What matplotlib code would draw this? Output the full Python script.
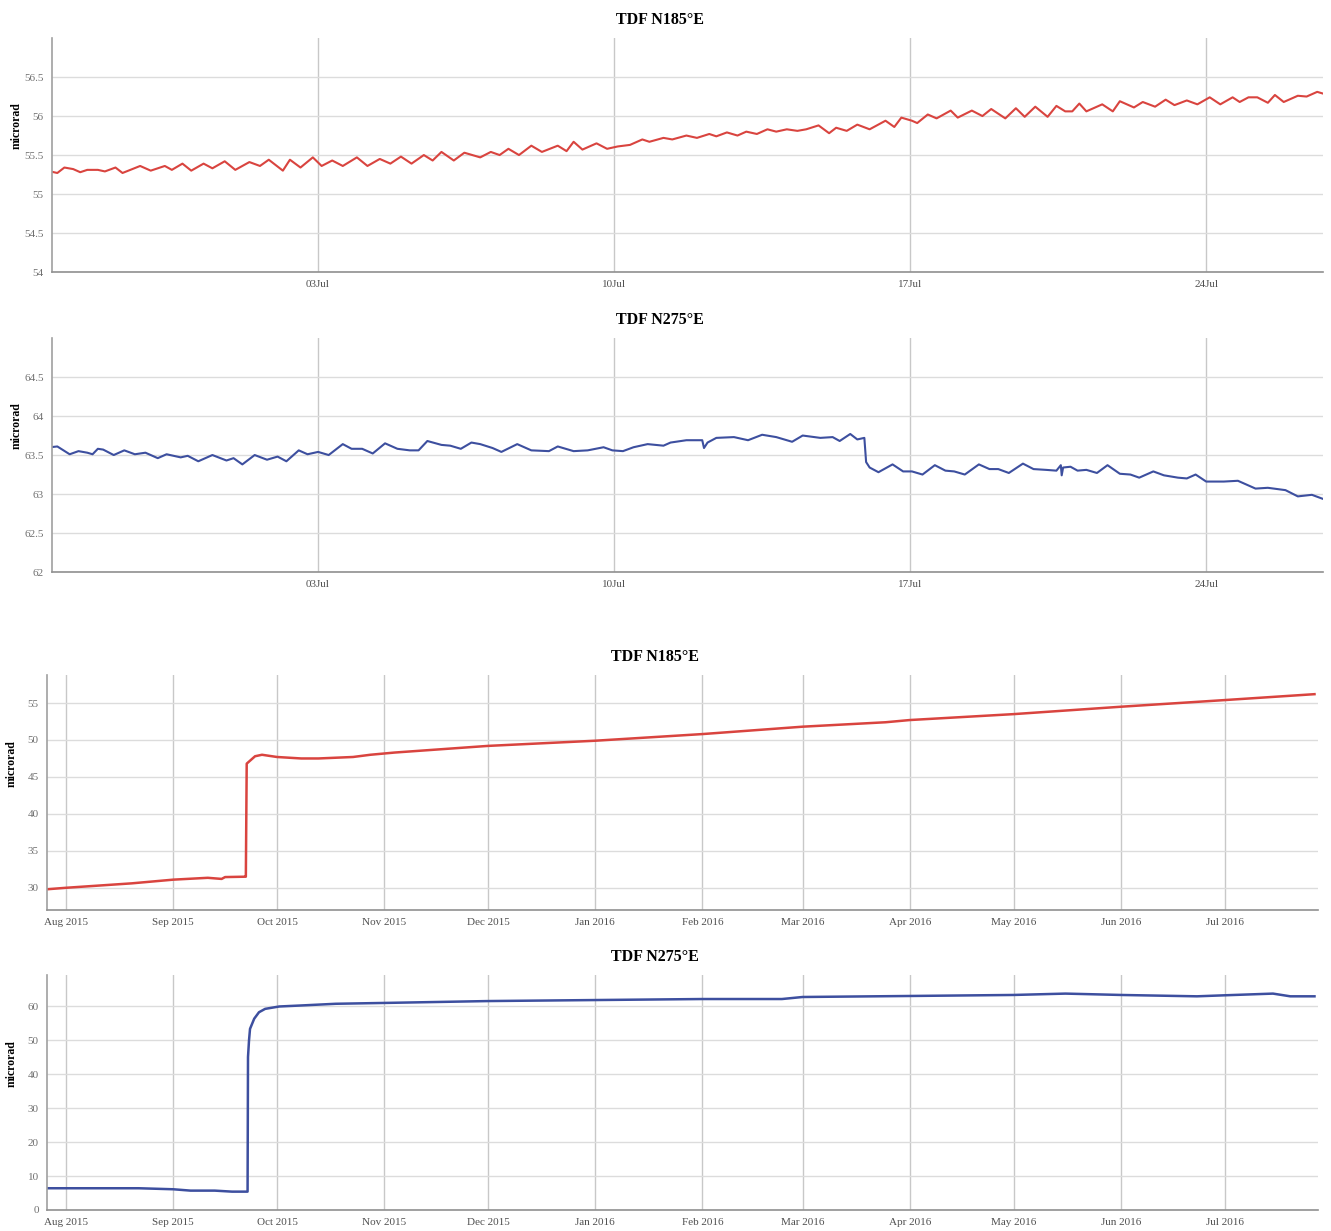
#!/usr/bin/env python3
# -*- coding: utf-8 -*-
"""
TDF tiltmeter plots: one month detail (Jul 2016) and one year overview
"""

import pandas as pd
import numpy as np
import matplotlib
matplotlib.use('Agg')
import matplotlib.pyplot as plt
import matplotlib.dates as mdates
from matplotlib.ticker import FixedLocator, FuncFormatter

plt.rcParams['font.family'] = ['Liberation Serif', 'DejaVu Serif']

RED = '#d9443f'
BLUE = '#3d4f9f'

# ---- month panels: hours after 2016-06-27 00:00 ----
MONTH_START = '2016-06-27 00:00'

n185_hours = [-8, -4, 0, 5, 9, 13, 19, 23, 29, 33, 43, 49, 57, 61, 67, 72, 79, 84,
              91, 97, 105, 111, 116, 124, 128, 134, 141, 146, 152, 158, 166, 172,
              179, 185, 191, 197, 204, 209, 214, 221, 227, 236, 242, 247, 252, 258,
              265, 271, 280, 285, 289, 294, 302, 308, 314, 321, 328, 332, 340, 345,
              353, 359, 366, 370, 376, 382, 387, 393, 399, 404, 410, 416, 421, 428,
              434, 438, 444, 450, 457, 466, 471, 475, 481, 484, 490, 495, 503, 507,
              515, 521, 526, 534, 540, 545, 551, 558, 563, 568, 572, 576, 580, 589,
              595, 599, 607, 612, 619, 625, 630, 637, 643, 650, 656, 663, 667, 672,
              677, 683, 687, 692, 700, 705, 711, 714]
n185_month = [55.29, 55.27, 55.34, 55.32, 55.28, 55.31, 55.31, 55.29, 55.34, 55.27,
              55.36, 55.30, 55.36, 55.31, 55.39, 55.30, 55.39, 55.33, 55.42, 55.31,
              55.41, 55.36, 55.44, 55.30, 55.44, 55.34, 55.47, 55.36, 55.43, 55.36,
              55.47, 55.36, 55.45, 55.39, 55.48, 55.39, 55.50, 55.43, 55.54, 55.43,
              55.53, 55.47, 55.54, 55.50, 55.58, 55.50, 55.62, 55.54, 55.62, 55.55,
              55.67, 55.57, 55.65, 55.58, 55.61, 55.63, 55.70, 55.67, 55.72, 55.70,
              55.75, 55.72, 55.77, 55.74, 55.79, 55.75, 55.80, 55.77, 55.83, 55.80,
              55.83, 55.81, 55.83, 55.88, 55.78, 55.85, 55.81, 55.89, 55.83, 55.94,
              55.86, 55.98, 55.94, 55.91, 56.02, 55.97, 56.07, 55.98, 56.07, 56.00,
              56.09, 55.97, 56.10, 55.99, 56.12, 55.99, 56.13, 56.06, 56.06, 56.16,
              56.06, 56.15, 56.06, 56.19, 56.11, 56.18, 56.12, 56.21, 56.14, 56.20,
              56.15, 56.24, 56.15, 56.24, 56.18, 56.24, 56.24, 56.17, 56.27, 56.18,
              56.26, 56.25, 56.31, 56.29]

n275_hours = [-8, -4, 3, 8, 13, 16, 19, 22, 28, 34, 40, 46, 53, 58, 66, 70, 76, 84,
              92, 96, 101, 108, 115, 121, 126, 133, 138, 144, 150, 158, 163, 169,
              175, 182, 189, 196, 201, 206, 214, 219, 225, 231, 236, 243, 248, 257,
              265, 275, 280, 289, 297, 306, 311, 317, 323, 331, 340, 344, 353, 362,
              363, 365, 370, 380, 388, 396, 404, 413, 419, 429, 436, 440, 446, 450,
              454, 455, 457, 462, 470, 476, 481, 487, 494, 500, 505, 511, 519, 525,
              530, 536, 544, 550, 557, 563, 565.5, 566, 566.8, 571, 575, 580, 586,
              592, 599, 605, 610, 618, 624, 632, 637, 642, 648, 658, 666, 676, 683,
              693, 700, 708, 714]
n275_month = [63.60, 63.61, 63.51, 63.55, 63.53, 63.51, 63.58, 63.57, 63.50, 63.56,
              63.51, 63.53, 63.46, 63.51, 63.47, 63.49, 63.42, 63.50, 63.43, 63.46,
              63.38, 63.50, 63.44, 63.48, 63.42, 63.56, 63.51, 63.54, 63.50, 63.64,
              63.58, 63.58, 63.52, 63.65, 63.58, 63.56, 63.56, 63.68, 63.63, 63.62,
              63.58, 63.66, 63.64, 63.59, 63.54, 63.64, 63.56, 63.55, 63.61, 63.55,
              63.56, 63.60, 63.56, 63.55, 63.60, 63.64, 63.62, 63.66, 63.69, 63.69,
              63.59, 63.66, 63.72, 63.73, 63.69, 63.76, 63.73, 63.67, 63.75, 63.72,
              63.73, 63.68, 63.77, 63.70, 63.72, 63.41, 63.34, 63.28, 63.38, 63.29,
              63.29, 63.25, 63.37, 63.30, 63.29, 63.25, 63.38, 63.32, 63.32, 63.27,
              63.39, 63.32, 63.31, 63.30, 63.37, 63.24, 63.34, 63.35, 63.30, 63.31,
              63.27, 63.37, 63.26, 63.25, 63.21, 63.29, 63.24, 63.21, 63.20, 63.25,
              63.16, 63.16, 63.17, 63.07, 63.08, 63.05, 62.97, 62.99, 62.94]

month_ticks = ['2016-07-03', '2016-07-10', '2016-07-17', '2016-07-24']

# ---- year panels ----
n185_year_dates = ['2015-07-26', '2015-08-01', '2015-08-20', '2015-09-01', '2015-09-11',
                   '2015-09-15', '2015-09-16', '2015-09-21 18:00', '2015-09-22 00:00',
                   '2015-09-22 06:00', '2015-09-24 16:00', '2015-09-26 16:00',
                   '2015-10-01', '2015-10-08', '2015-10-13', '2015-10-23', '2015-10-28',
                   '2015-11-04', '2015-12-01', '2016-01-01', '2016-02-01', '2016-03-01',
                   '2016-03-25', '2016-04-01', '2016-05-01', '2016-06-01', '2016-07-01',
                   '2016-07-27']
n185_year = [29.78, 30.0, 30.6, 31.1, 31.35, 31.2, 31.45, 31.5, 31.5, 46.8, 47.8,
             48.0, 47.7, 47.5, 47.5, 47.7, 48.0, 48.3, 49.2, 49.9, 50.8, 51.8, 52.4,
             52.7, 53.5, 54.5, 55.4, 56.2]

n275_year_dates = ['2015-07-26', '2015-08-01', '2015-08-22', '2015-09-01', '2015-09-06',
                   '2015-09-13', '2015-09-18', '2015-09-22 12:00', '2015-09-22 15:00',
                   '2015-09-22 22:00', '2015-09-23 05:00', '2015-09-24 10:00',
                   '2015-09-25 19:00', '2015-09-27 14:00', '2015-10-01 16:00',
                   '2015-10-08', '2015-10-18', '2015-11-04', '2015-12-01', '2016-01-01',
                   '2016-02-01', '2016-02-24', '2016-03-01', '2016-04-01', '2016-05-01',
                   '2016-05-16', '2016-06-01', '2016-06-23', '2016-07-01', '2016-07-15',
                   '2016-07-20', '2016-07-27']
n275_year = [6.4, 6.4, 6.4, 6.1, 5.7, 5.7, 5.4, 5.4, 45.1, 50.0, 53.4, 56.4,
             58.3, 59.3, 60.0, 60.3, 60.8, 61.1, 61.6, 61.9, 62.2, 62.2, 62.8, 63.1,
             63.4, 63.8, 63.4, 63.0, 63.3, 63.8, 63.0, 63.0]

year_ticks = ['2015-08-01', '2015-09-01', '2015-10-01', '2015-11-01', '2015-12-01',
              '2016-01-01', '2016-02-01', '2016-03-01', '2016-04-01', '2016-05-01',
              '2016-06-01', '2016-07-01']


def to_dates(strings):
    return pd.to_datetime(strings, format='ISO8601')


def style_axes(ax, title, yticks, ylim, xticks, xfmt, xlim):
    """common look of the four panels"""
    ax.set_xlim(xlim)
    ax.set_ylim(ylim)
    ax.yaxis.set_major_locator(FixedLocator(yticks))
    ax.yaxis.set_major_formatter(FuncFormatter(lambda v, p: f'{v:g}'))
    ax.xaxis.set_major_locator(FixedLocator(mdates.date2num(to_dates(xticks))))
    ax.xaxis.set_major_formatter(mdates.DateFormatter(xfmt))
    ax.tick_params(axis='both', length=0, labelsize=8, pad=6)
    ax.tick_params(axis='y', labelcolor='#707070')
    ax.tick_params(axis='x', labelcolor='#505050')
    ax.grid(axis='y', color='#dcdcdc', linewidth=1.0)
    ax.grid(axis='x', color='#c8c8c8', linewidth=1.0)
    ax.set_axisbelow(True)
    for s in ('top', 'right'):
        ax.spines[s].set_visible(False)
    ax.spines['left'].set_color('#a0a0a0')
    ax.spines['bottom'].set_color('#909090')
    ax.spines['left'].set_linewidth(1.2)
    ax.spines['bottom'].set_linewidth(1.2)
    # title sits a little left of the axes centre in the original
    ax.set_title(title, fontsize=11.5, fontweight='bold', x=0.478, pad=10)
    ax.set_ylabel('microrad', fontsize=8.5, fontweight='bold')
    ax.yaxis.set_label_coords(-0.0232, 0.624)


def main():
    fig = plt.figure(figsize=(13.31, 12.31), dpi=100)

    base = pd.Timestamp(MONTH_START)
    m_xlim = (mdates.date2num(base - pd.Timedelta(hours=7)),
              mdates.date2num(base + pd.Timedelta(hours=714.3)))
    y_xlim = (mdates.date2num(pd.Timestamp('2015-07-26 12:00')),
              mdates.date2num(pd.Timestamp('2016-07-28 00:00')))

    ax1 = fig.add_axes([0.0391, 0.7790, 0.9549, 0.1901])
    t1 = base + pd.to_timedelta(n185_hours, unit='h')
    ax1.plot(t1, n185_month, color=RED, linewidth=1.5)
    style_axes(ax1, 'TDF N185°E', [54, 54.5, 55, 55.5, 56, 56.5], (54, 57),
               month_ticks, '%d%b', m_xlim)

    ax2 = fig.add_axes([0.0391, 0.5353, 0.9549, 0.1901])
    t2 = base + pd.to_timedelta(n275_hours, unit='h')
    ax2.plot(t2, n275_month, color=BLUE, linewidth=1.5)
    style_axes(ax2, 'TDF N275°E', [62, 62.5, 63, 63.5, 64, 64.5], (62, 65),
               month_ticks, '%d%b', m_xlim)

    ax3 = fig.add_axes([0.0353, 0.2608, 0.9549, 0.1909])
    ax3.plot(to_dates(n185_year_dates), n185_year, color=RED, linewidth=1.8)
    style_axes(ax3, 'TDF N185°E', [30, 35, 40, 45, 50, 55], (27, 58.8),
               year_ticks, '%b %Y', y_xlim)

    ax4 = fig.add_axes([0.0353, 0.0171, 0.9549, 0.1909])
    ax4.plot(to_dates(n275_year_dates), n275_year, color=BLUE, linewidth=1.8)
    style_axes(ax4, 'TDF N275°E', [0, 10, 20, 30, 40, 50, 60], (0, 69.3),
               year_ticks, '%b %Y', y_xlim)

    fig.savefig('out.png', dpi=100)


if __name__ == '__main__':
    main()
